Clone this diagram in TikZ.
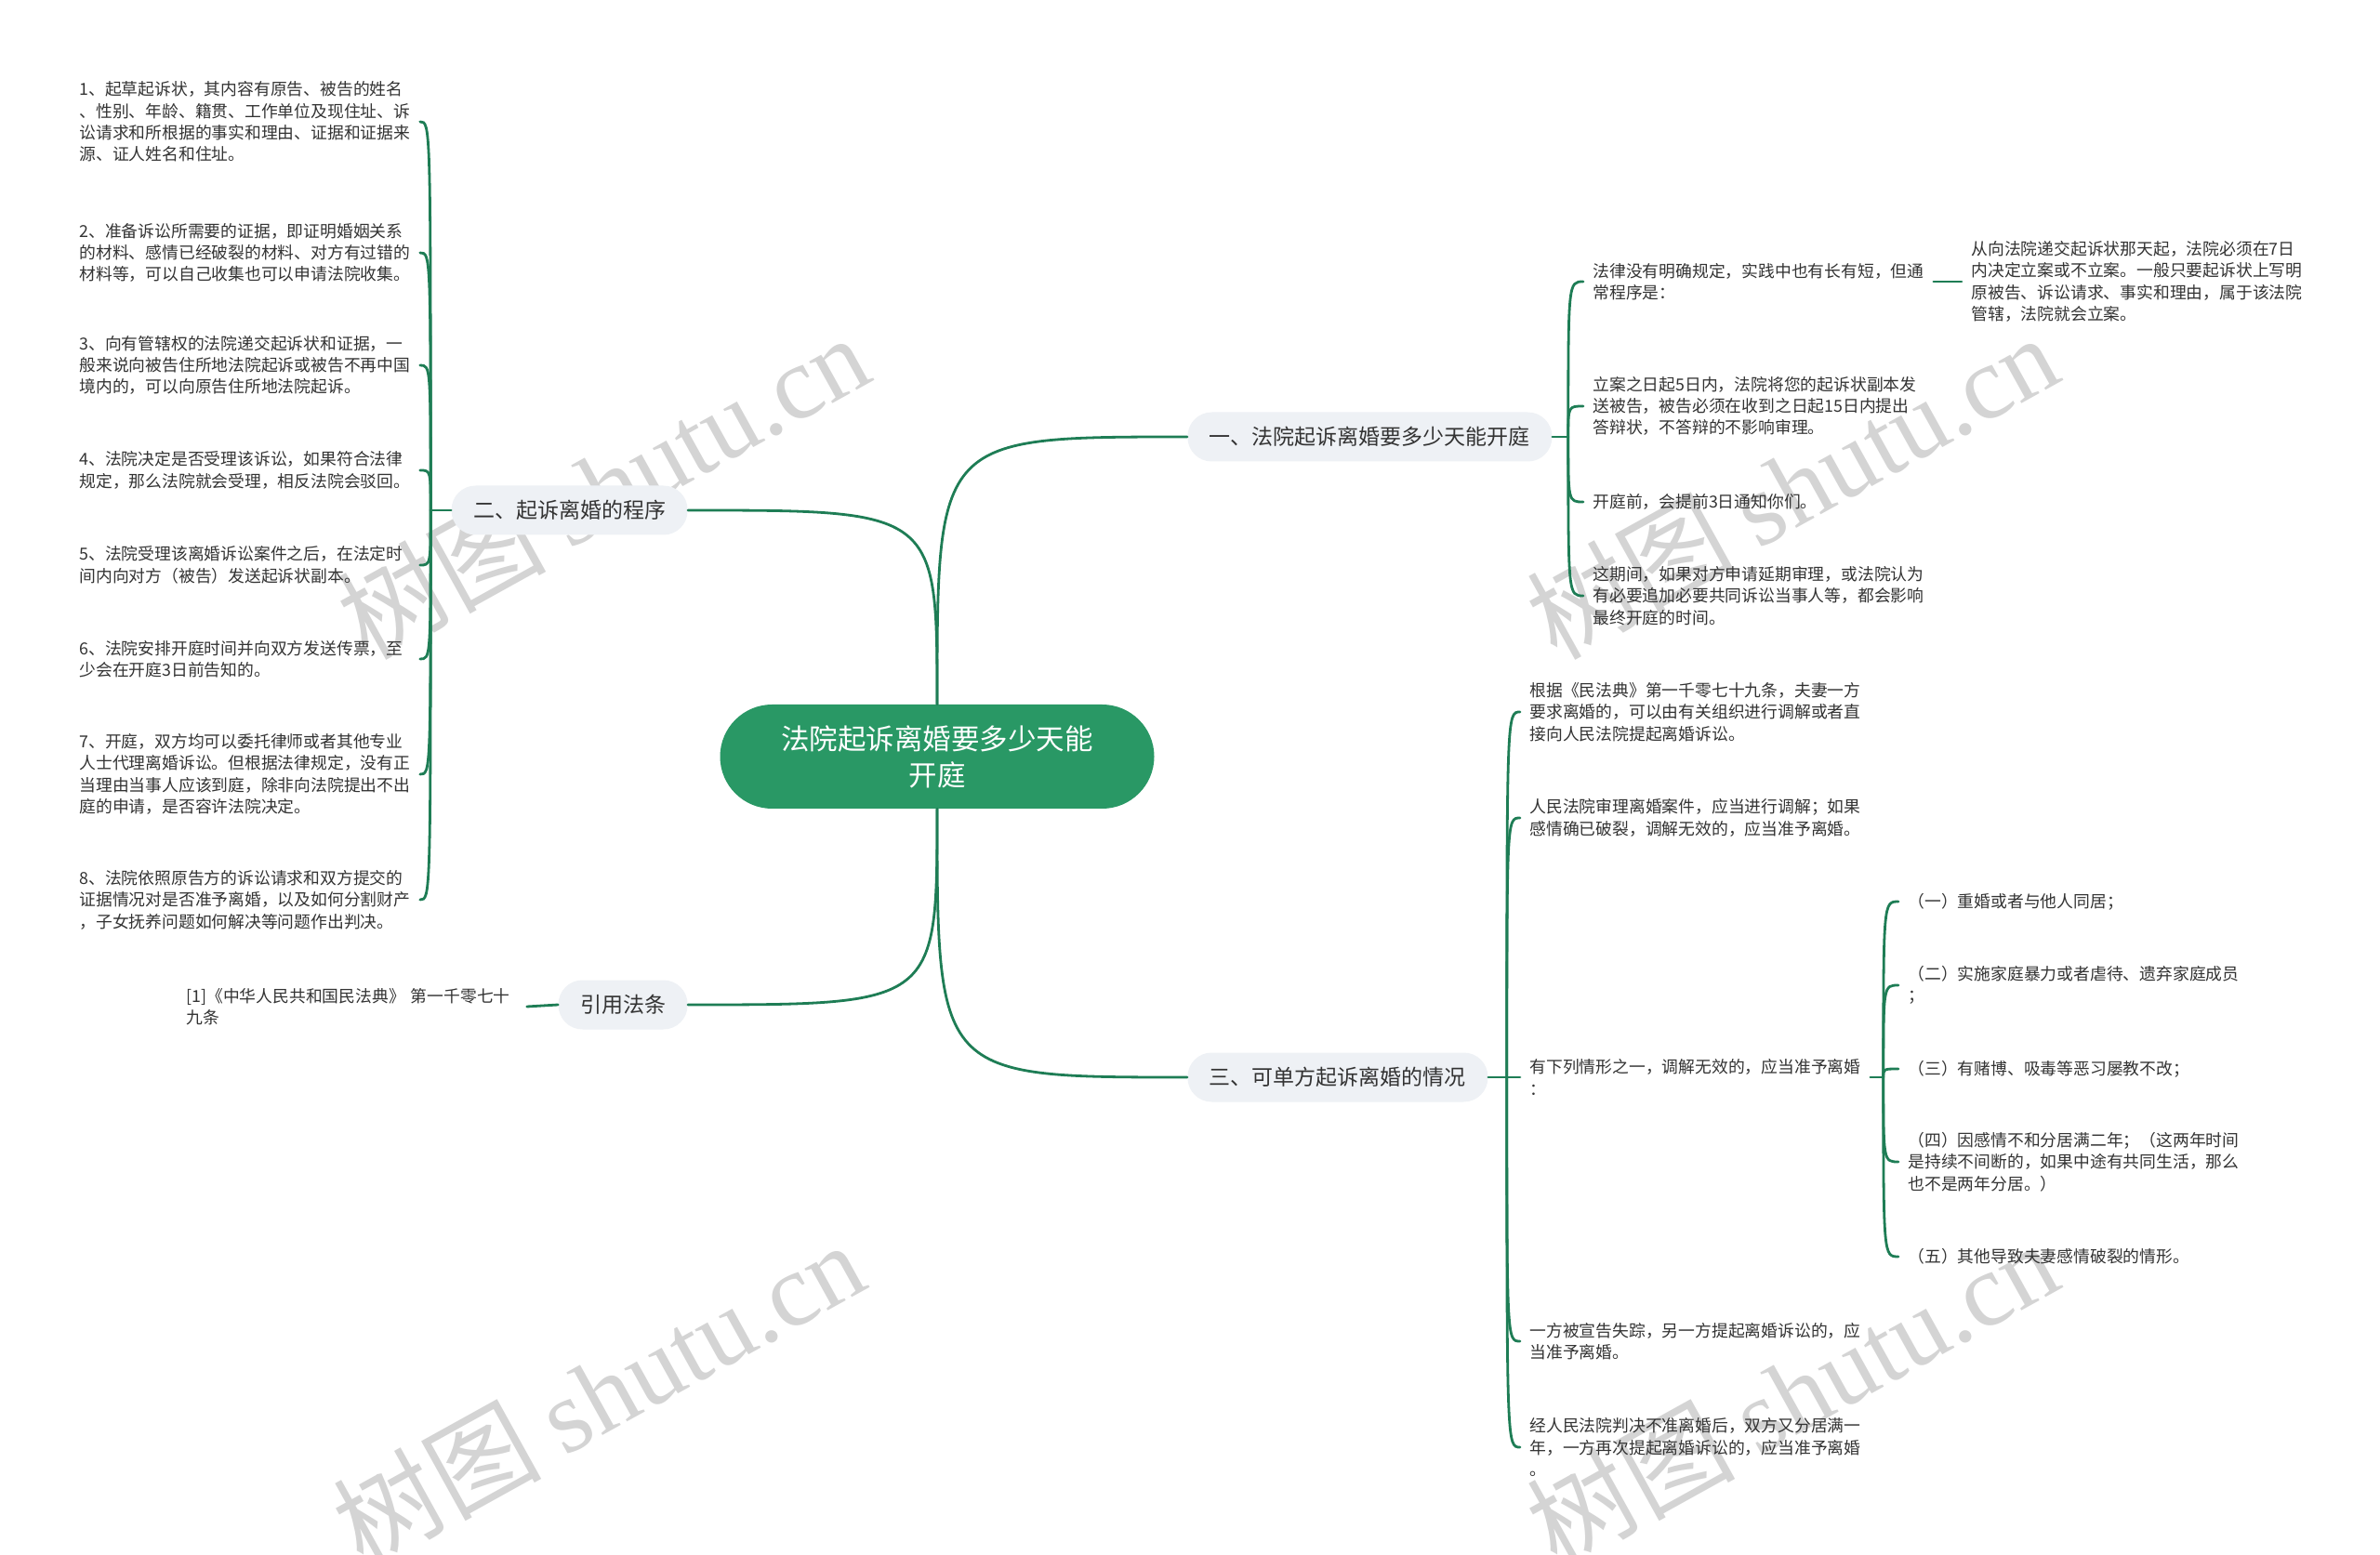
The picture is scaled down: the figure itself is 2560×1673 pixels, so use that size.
\documentclass[tikz,border=0pt]{standalone}
\usepackage{fontspec}
\setmainfont{Noto Sans CJK SC}
\newfontfamily\wmlatin{Liberation Serif}
\usetikzlibrary{positioning}
\definecolor{mapgreen}{RGB}{41,152,101}
\definecolor{linkgreen}{RGB}{30,125,85}
\definecolor{topicgray}{RGB}{238,241,245}
\definecolor{inkgray}{RGB}{51,51,51}

\begin{document}
\begin{tikzpicture}[
      x=0.5pt,y=-0.5pt,
      link/.style={draw=linkgreen, line width=1.4pt, line cap=round},
      hook/.style={to path={.. controls (\tikztostart |- \tikztotarget) .. (\tikztotarget)}},
      root/.style={fill=mapgreen, text=white, rounded corners=28pt, minimum width=233.5pt, minimum height=56pt, align=center, font=\fontsize{15.25}{19.5}\selectfont},
      topic/.style={fill=topicgray, text=inkgray, rounded corners=13pt, inner xsep=11.75pt, minimum height=26.5pt, font=\fontsize{11.5}{14}\selectfont},
      leaf/.style={text=inkgray, inner xsep=5pt, inner ysep=1pt, text width=178pt, align=left, font=\fontsize{8.9}{11.7}\selectfont},
      wmark/.style={rotate=29, text=black!17, font=\fontsize{56}{60}\selectfont}
    ]
      \fill[white] (0,0) rectangle (2560,1673);
      \useasboundingbox (0,0) rectangle (2560,1673);
      % watermarks
      \node[wmark] at (648,523) {树图 {\wmlatin shutu.cn}};
      \node[wmark] at (1927,523) {树图 {\wmlatin shutu.cn}};
      \node[wmark] at (643,1499) {树图 {\wmlatin shutu.cn}};
      \node[wmark] at (1927,1499) {树图 {\wmlatin shutu.cn}};

      \node[root] (root) at (1008,814) {法院起诉离婚要多少天能\\开庭};
      \node[topic, anchor=west] (b1) at (1277,470) {一、法院起诉离婚要多少天能开庭};
      \node[topic, anchor=east] (b2) at (740,549) {二、起诉离婚的程序};
      \node[topic, anchor=west] (b3) at (1277,1159) {三、可单方起诉离婚的情况};
      \node[topic, anchor=east] (b4) at (740,1081) {引用法条};

      % 一
      \node[leaf, anchor=west] (a1) at (1703,303) {法律没有明确规定，实践中也有长有短，但通\\常程序是：};
      \node[leaf, anchor=west] (a1x) at (2110,303) {从向法院递交起诉状那天起，法院必须在7日\\内决定立案或不立案。一般只要起诉状上写明\\原被告、诉讼请求、事实和理由，属于该法院\\管辖，法院就会立案。};
      \node[leaf, anchor=west] (a2) at (1703,437) {立案之日起5日内，法院将您的起诉状副本发\\送被告，被告必须在收到之日起15日内提出\\答辩状，不答辩的不影响审理。};
      \node[leaf, anchor=west] (a3) at (1703,540) {开庭前，会提前3日通知你们。};
      \node[leaf, anchor=west] (a4) at (1703,641) {这期间，如果对方申请延期审理，或法院认为\\有必要追加必要共同诉讼当事人等，都会影响\\最终开庭的时间。};

      % 二
      \node[leaf, anchor=west] (l1) at (75,131) {1、起草起诉状，其内容有原告、被告的姓名\\、性别、年龄、籍贯、工作单位及现住址、诉\\讼请求和所根据的事实和理由、证据和证据来\\源、证人姓名和住址。};
      \node[leaf, anchor=west] (l2) at (75,272) {2、准备诉讼所需要的证据，即证明婚姻关系\\的材料、感情已经破裂的材料、对方有过错的\\材料等，可以自己收集也可以申请法院收集。};
      \node[leaf, anchor=west] (l3) at (75,393) {3、向有管辖权的法院递交起诉状和证据，一\\般来说向被告住所地法院起诉或被告不再中国\\境内的，可以向原告住所地法院起诉。};
      \node[leaf, anchor=west] (l4) at (75,506) {4、法院决定是否受理该诉讼，如果符合法律\\规定，那么法院就会受理，相反法院会驳回。};
      \node[leaf, anchor=west] (l5) at (75,608) {5、法院受理该离婚诉讼案件之后，在法定时\\间内向对方（被告）发送起诉状副本。};
      \node[leaf, anchor=west] (l6) at (75,709) {6、法院安排开庭时间并向双方发送传票，至\\少会在开庭3日前告知的。};
      \node[leaf, anchor=west] (l7) at (75,833) {7、开庭，双方均可以委托律师或者其他专业\\人士代理离婚诉讼。但根据法律规定，没有正\\当理由当事人应该到庭，除非向法院提出不出\\庭的申请，是否容许法院决定。};
      \node[leaf, anchor=west] (l8) at (75,968) {8、法院依照原告方的诉讼请求和双方提交的\\证据情况对是否准予离婚，以及如何分割财产\\，子女抚养问题如何解决等问题作出判决。};

      % 引用法条
      \node[leaf, anchor=west] (cite) at (190,1083) {[1]《中华人民共和国民法典》 第一千零七十\\九条};

      % 三
      \node[leaf, anchor=west] (c1) at (1635,766) {根据《民法典》第一千零七十九条，夫妻一方\\要求离婚的，可以由有关组织进行调解或者直\\接向人民法院提起离婚诉讼。};
      \node[leaf, anchor=west] (c2) at (1635,880) {人民法院审理离婚案件，应当进行调解；如果\\感情确已破裂，调解无效的，应当准予离婚。};
      \node[leaf, anchor=west] (c3) at (1635,1159) {有下列情形之一，调解无效的，应当准予离婚\\：};
      \node[leaf, anchor=west] (c4) at (1635,1443) {一方被宣告失踪，另一方提起离婚诉讼的，应\\当准予离婚。};
      \node[leaf, anchor=west] (c5) at (1635,1557) {经人民法院判决不准离婚后，双方又分居满一\\年，一方再次提起离婚诉讼的，应当准予离婚\\。};
      \node[leaf, anchor=west] (g1) at (2042,970) {（一）重婚或者与他人同居；};
      \node[leaf, anchor=west] (g2) at (2042,1060) {（二）实施家庭暴力或者虐待、遗弃家庭成员\\；};
      \node[leaf, anchor=west] (g3) at (2042,1150) {（三）有赌博、吸毒等恶习屡教不改；};
      \node[leaf, anchor=west] (g4) at (2042,1250) {（四）因感情不和分居满二年；（这两年时间\\是持续不间断的，如果中途有共同生活，那么\\也不是两年分居。）};
      \node[leaf, anchor=west] (g5) at (2042,1352) {（五）其他导致夫妻感情破裂的情形。};

      % connectors
      \draw[link] (root.north) to[hook] (b1.west);
      \draw[link] (root.north) to[hook] (b2.east);
      \draw[link] (root.south) to[hook] (b3.west);
      \draw[link] (root.south) to[hook] (b4.east);

      \draw[link] (b1.east) -- ++(17,0) coordinate (s1);
      \foreach \n in {a1,a2,a3,a4}
        \draw[link] (s1) to[hook] (\n.west);
      \draw[link] (a1.east) -- (a1x.west);

      \draw[link] (b2.west) -- ++(-22,0) coordinate (s2);
      \foreach \n in {1,...,8}
        \draw[link] (s2) to[hook] (l\n.east);

      \draw[link] (b4.west) -- (cite.east);

      \draw[link] (b3.east) -- ++(20,0) coordinate (s3);
      \foreach \n in {c1,c2,c4,c5}
        \draw[link] (s3) to[hook] (\n.west);
      \draw[link] (s3) -- (c3.west);
      \draw[link] (c3.east) -- ++(14,0) coordinate (s4);
      \foreach \n in {1,...,5}
        \draw[link] (s4) to[hook] (g\n.west);
    \end{tikzpicture}
\end{document}
